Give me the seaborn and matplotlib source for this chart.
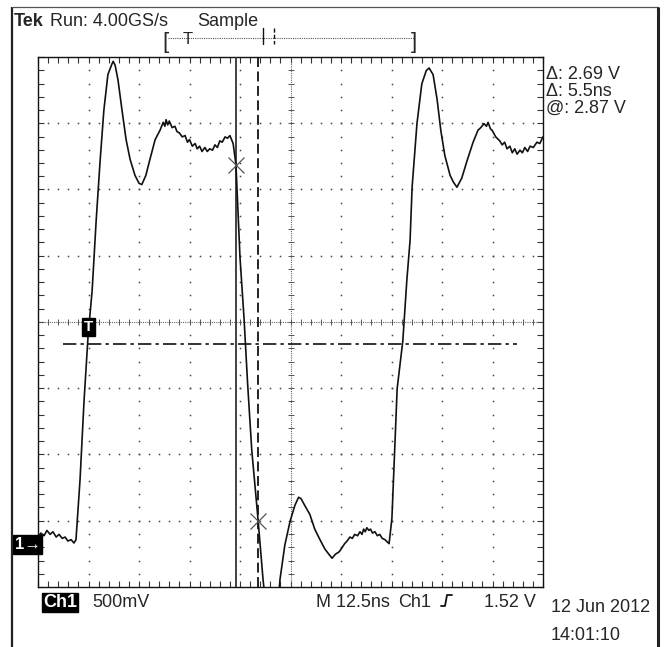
import numpy as np
import pandas as pd
import matplotlib
matplotlib.use("Agg")
import matplotlib.pyplot as plt
import matplotlib.transforms as mtransforms
import seaborn as sns

# ---- Channel 1 acquisition: time (ns) and amplitude (V) ----
time_ns = [0.0, 0.7, 1.5, 2.2, 3.0, 3.7, 4.5, 5.2, 6.0, 6.7, 7.4, 8.2, 8.9, 9.4,
           10.4, 11.4, 12.4, 13.4, 14.4, 15.4, 16.3, 17.3, 18.3, 18.6,
           19.1, 19.8, 20.8, 21.8, 22.8, 24.0, 25.0, 25.7, 26.7, 27.7, 29.0,
           30.2, 31.0, 31.4, 31.7, 32.1, 32.5, 33.2, 33.9, 34.4, 35.0, 35.7,
           36.4, 37.0, 37.5, 38.2, 38.9, 39.4, 40.0, 40.6, 41.3, 41.9, 42.5,
           43.2, 43.8, 44.4, 45.0, 45.6, 46.3, 46.9, 47.5, 48.3, 49.0,
           50.0, 51.0, 51.9, 52.9, 54.5, 55.7, 56.9, 58.0, 59.0, 59.9, 61.1,
           62.4, 63.6, 64.5, 65.1, 66.0, 67.3, 68.5, 69.8, 71.0, 72.0, 72.8,
           73.6, 74.6, 75.9, 76.5, 77.2, 77.8, 78.4, 79.1, 79.7, 80.2, 80.6,
           81.0, 81.4, 81.9, 82.3, 82.8, 83.4, 84.0, 84.6, 85.2, 85.9, 86.9,
           87.6, 88.9, 90.3, 91.3, 92.1, 92.6, 93.8, 95.0, 96.1, 96.8,
           97.8, 98.8, 99.7, 100.7, 102.0, 102.8, 103.7, 104.9, 106.2, 107.7,
           108.9, 109.6, 110.4, 111.0, 111.4, 112.0, 112.4, 113.3, 114.3,
           114.9, 115.5, 116.1, 116.8, 117.4, 118.0, 118.6, 119.3, 119.9,
           120.5, 121.2, 121.8, 122.6, 123.5, 124.2, 125.0]
volts = [0.06, 0.09, 0.07, 0.11, 0.08, 0.10, 0.06, 0.08, 0.05, 0.06, 0.03, 0.04, 0.015, 0.04,
         0.49, 1.09, 1.58, 1.92, 2.45, 2.91, 3.28, 3.55, 3.63, 3.65,
         3.62, 3.51, 3.28, 3.06, 2.91, 2.79, 2.73, 2.72, 2.79, 2.91, 3.06,
         3.13, 3.19, 3.16, 3.21, 3.17, 3.20, 3.15, 3.16, 3.12, 3.11, 3.08,
         3.09, 3.04, 3.06, 3.01, 3.03, 2.99, 3.01, 2.97, 3.00, 2.97, 2.99,
         2.98, 3.02, 3.00, 3.05, 3.04, 3.08, 3.07, 3.09, 3.03, 2.87,
         2.17, 1.71, 1.21, 0.72, 0.18, -0.26, -0.60, -0.75, -0.60, -0.26, 0.00,
         0.18, 0.30, 0.36, 0.35, 0.30, 0.23, 0.12, 0.04, -0.03, -0.07, -0.10,
         -0.07, -0.05, 0.01, 0.03, 0.06, 0.05, 0.08, 0.07, 0.10, 0.08, 0.12,
         0.10, 0.13, 0.11, 0.12, 0.09, 0.10, 0.07, 0.08, 0.05, 0.04, 0.01,
         0.20, 1.18, 1.54, 2.00, 2.30, 2.70, 3.18, 3.48, 3.58, 3.60,
         3.55, 3.36, 3.13, 2.94, 2.79, 2.74, 2.70, 2.77, 2.90, 3.04,
         3.13, 3.15, 3.18, 3.16, 3.19, 3.14, 3.13, 3.08, 3.05,
         3.02, 3.04, 2.99, 3.01, 2.96, 2.99, 2.95, 2.98, 2.96,
         3.00, 2.97, 3.01, 3.00, 3.04, 3.03, 3.08]

# ---- Front-panel settings ----
volts_per_div = 0.5
ns_per_div = 12.5
n_hdiv, n_vdiv = 10, 8
screen_bottom_v = -0.317
trigger_level_v = 1.52
trigger_ns = 12.6
sample_rate = "4.00GS/s"

# Cursor readouts
cursor1_ns = 49.0
cursor_dt_ns = 5.5
cursor1_v = 2.87
cursor_dv = 2.69

date_label = "12 Jun 2012"
time_label = "14:01:10"

# ---- Styling ----
sns.set_style("white")
plt.rcParams["font.family"] = ["Liberation Sans", "DejaVu Sans"]
ink = "#111111"
dot = "#444444"

W, H = 664, 647
fig = plt.figure(figsize=(W / 100, H / 100), dpi=100)
ax = fig.add_axes([38 / W, 60 / H, 505 / W, 530 / H])

x_max = ns_per_div * n_hdiv
y_min = screen_bottom_v
y_max = y_min + volts_per_div * n_vdiv
x_mid = x_max / 2
y_mid = y_min + volts_per_div * n_vdiv / 2
ax.set_xlim(0, x_max)
ax.set_ylim(y_min, y_max)

# Graticule border and its inward minor ticks
ax.set_xticks(np.arange(0, x_max + 1e-6, ns_per_div))
ax.set_xticks(np.arange(0, x_max + 1e-6, ns_per_div / 5), minor=True)
ax.set_yticks(y_min + np.arange(0, n_vdiv + 1) * volts_per_div)
ax.set_yticks(y_min + np.arange(0, n_vdiv * 5 + 1) * volts_per_div / 5, minor=True)
ax.tick_params(which="both", direction="in", top=True, right=True,
               bottom=True, left=True, labelbottom=False, labelleft=False,
               length=4, width=0.8, color="#333333")
for s in ax.spines.values():
    s.set_color(ink)
    s.set_linewidth(1.0)

# Dotted division lines
fine_x = np.arange(0, x_max + 1e-6, ns_per_div / 5)
fine_y = y_min + np.arange(0, n_vdiv * 5 + 1) * volts_per_div / 5
for k in range(1, n_hdiv):
    if k == n_hdiv // 2:
        continue
    gx = k * ns_per_div
    ax.plot(np.full_like(fine_y, gx), fine_y, ls="none", marker="s",
            ms=1.1, mew=0, color=dot, zorder=1)
for k in range(1, n_vdiv):
    if k == n_vdiv // 2:
        continue
    gy = y_min + k * volts_per_div
    ax.plot(fine_x, np.full_like(fine_x, gy), ls="none", marker="s",
            ms=1.1, mew=0, color=dot, zorder=1)

# Centre cross with minor tick marks
ax.axhline(y_mid, ls=(0, (1, 1)), lw=0.8, color="#666666", zorder=1)
ax.axvline(x_mid, ls=(0, (1, 1)), lw=0.8, color="#666666", zorder=1)
ax.plot(fine_x, np.full_like(fine_x, y_mid), ls="none", marker="|",
        ms=4.5, mew=0.7, color="#555555", zorder=1)
ax.plot(np.full_like(fine_y, x_mid), fine_y, ls="none", marker="_",
        ms=4.5, mew=0.7, color="#555555", zorder=1)

# Waveform
df = pd.DataFrame({"Time (ns)": time_ns, "Ch1 (V)": volts})
sns.lineplot(data=df, x="Time (ns)", y="Ch1 (V)", ax=ax, color=ink,
             lw=1.2, sort=False, estimator=None, zorder=4)
ax.set_xlabel("")
ax.set_ylabel("")

# Cursors
cursor2_ns = cursor1_ns + cursor_dt_ns
ax.axvline(cursor1_ns, color="#333333", lw=1.3, zorder=3)
ax.axvline(cursor2_ns, color=ink, lw=1.3, ls=(0, (5.5, 2.5)), zorder=3)
ax.plot([cursor1_ns, cursor2_ns], [cursor1_v, cursor1_v - cursor_dv],
        ls="none", marker="x", ms=11, mew=0.9, color="#555555", zorder=5)

# Trigger level
ax.plot([6.2, 118.6], [trigger_level_v, trigger_level_v], color=ink,
        lw=1.2, ls=(0, (8, 2.5, 2, 2.5)), zorder=3)
ax.text(trigger_ns, y_mid - 0.04, "T", color="white", ha="center",
        va="center", fontsize=11, fontweight="bold", zorder=6,
        bbox=dict(boxstyle="square,pad=0.12", fc="black", ec="black"))

# Ground reference marker for channel 1
gnd = mtransforms.blended_transform_factory(fig.transFigure, ax.transData)
fig.text(27.5 / W, 0.0, "1\u2192", transform=gnd, color="white",
         ha="center", va="center", fontsize=12, fontweight="bold",
         bbox=dict(boxstyle="square,pad=0.12", fc="black", ec="black"))

# ---- Screen furniture in pixel coordinates ----
ov = fig.add_axes([0, 0, 1, 1], zorder=10)
ov.set_xlim(0, W)
ov.set_ylim(H, 0)
ov.axis("off")
ov.patch.set_alpha(0)

ov.plot([12, 12], [7, H], color="#222222", lw=1.6, solid_capstyle="butt")
ov.plot([12, 658], [7, 7], color="#555555", lw=0.9)
ov.plot([658, 658], [7, H], color="#222222", lw=2.2, solid_capstyle="butt")

fs = 13
ov.text(14, 26, "Tek", fontsize=fs, fontweight="bold", va="baseline")
ov.text(50, 26, f"Run: {sample_rate}", fontsize=fs, va="baseline")
ov.text(197, 26, "Sample", fontsize=fs, va="baseline")

# Record-position bracket
ov.text(162, 48, "[", fontsize=fs + 3, va="baseline")
ov.text(411, 48, "]", fontsize=fs + 3, va="baseline")
ov.plot([168, 414], [38, 38], color="#555555", lw=0.8, ls=(0, (1, 1)))
ov.text(188, 44, "T", fontsize=12, ha="center", va="baseline")
ov.plot([263, 263], [28, 44], color=ink, lw=1.0)
ov.plot([274, 274], [28, 44], color=ink, lw=1.0, ls=(0, (3, 1.5)))

# Cursor readouts
ov.text(546, 79, f"\u0394: {cursor_dv:.2f} V", fontsize=fs, va="baseline")
ov.text(546, 96, f"\u0394: {cursor_dt_ns:.1f}ns", fontsize=fs, va="baseline")
ov.text(546, 113, f"@: {cursor1_v:.2f} V", fontsize=fs, va="baseline")

# Bottom status line
row = 607
ov.text(43, row, "Ch1", fontsize=fs, color="white", va="baseline",
        fontweight="bold",
        bbox=dict(boxstyle="square,pad=0.08", fc="black", ec="black"))
ov.text(92, row, f"{int(volts_per_div * 1000)}mV", fontsize=fs, va="baseline")
ov.text(316, row, f"M {ns_per_div:.1f}ns", fontsize=fs, va="baseline")
ov.text(398, row, "Ch1", fontsize=fs, va="baseline")
ov.plot([441, 445, 447, 452], [row - 1, row - 1, row - 12, row - 12],
        color=ink, lw=1.3)
ov.text(484, row, f"{trigger_level_v:.2f} V", fontsize=fs, va="baseline")
ov.text(551, 612, date_label, fontsize=fs, va="baseline")
ov.text(551, 640, time_label, fontsize=fs, va="baseline")

fig.savefig("out.png", dpi=100, facecolor="white")
